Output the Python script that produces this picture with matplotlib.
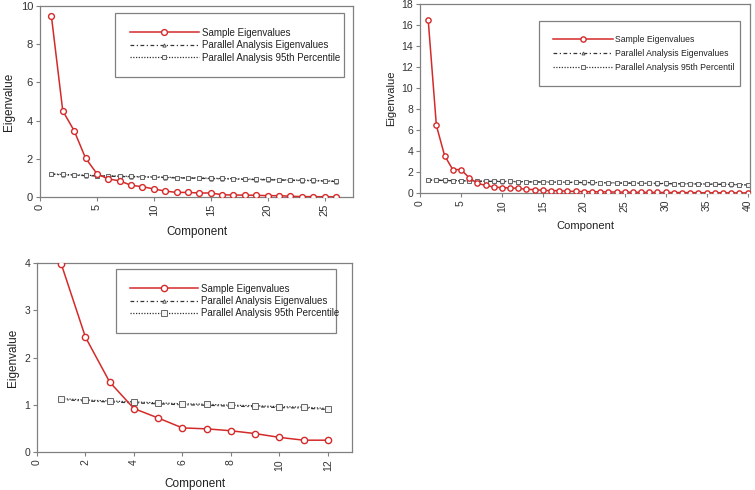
import matplotlib
matplotlib.use("Agg")
import matplotlib.pyplot as plt
import numpy as np

plt.rcParams['font.family'] = ['Liberation Sans', 'DejaVu Sans']

# ---- Data ----
p1_sample = [9.48, 4.51, 3.47, 2.04, 1.22, 0.94, 0.85, 0.61, 0.54, 0.42, 0.31, 0.24, 0.24,
             0.21, 0.21, 0.12, 0.10, 0.10, 0.09, 0.07, 0.07, 0.04, 0.02, 0.02, 0.01, 0.01]
p1_p95 = [1.21, 1.18, 1.16, 1.14, 1.12, 1.11, 1.09, 1.08, 1.06, 1.05, 1.04, 1.02, 1.01,
          1.00, 0.98, 0.97, 0.96, 0.94, 0.93, 0.92, 0.91, 0.89, 0.88, 0.87, 0.85, 0.83]
p1_pa = [1.19, 1.16, 1.14, 1.12, 1.10, 1.09, 1.07, 1.06, 1.04, 1.03, 1.02, 1.00, 0.99,
         0.98, 0.96, 0.95, 0.94, 0.92, 0.91, 0.90, 0.89, 0.87, 0.86, 0.85, 0.83, 0.81]

p2_sample = [16.5, 6.43, 3.57, 2.23, 2.23, 1.46, 0.92, 0.73, 0.57, 0.51, 0.48, 0.45, 0.35,
             0.32, 0.25, 0.22, 0.22, 0.16, 0.16, 0.13, 0.12, 0.11, 0.10, 0.09, 0.08, 0.07,
             0.06, 0.06, 0.05, 0.05, 0.04, 0.04, 0.03, 0.03, 0.02, 0.02, 0.02, 0.01, 0.01, 0.01]
p2_p95 = [1.25, 1.23, 1.21, 1.19, 1.17, 1.16, 1.14, 1.13, 1.12, 1.11, 1.10, 1.09, 1.08,
          1.07, 1.06, 1.05, 1.04, 1.03, 1.02, 1.01, 1.00, 0.99, 0.98, 0.97, 0.96, 0.95,
          0.94, 0.93, 0.92, 0.91, 0.90, 0.89, 0.88, 0.87, 0.86, 0.85, 0.84, 0.82, 0.80, 0.78]
p2_pa = [1.23, 1.21, 1.19, 1.17, 1.15, 1.14, 1.12, 1.11, 1.10, 1.09, 1.08, 1.07, 1.06,
         1.05, 1.04, 1.03, 1.02, 1.01, 1.00, 0.99, 0.98, 0.97, 0.96, 0.95, 0.94, 0.93,
         0.92, 0.91, 0.90, 0.89, 0.88, 0.87, 0.86, 0.85, 0.84, 0.83, 0.82, 0.80, 0.78, 0.76]

p3_sample = [3.98, 2.43, 1.48, 0.92, 0.72, 0.51, 0.49, 0.45, 0.39, 0.31, 0.25, 0.25]
p3_p95 = [1.13, 1.10, 1.08, 1.06, 1.04, 1.02, 1.01, 0.99, 0.98, 0.96, 0.95, 0.92]
p3_pa = [1.11, 1.08, 1.06, 1.04, 1.02, 1.00, 0.99, 0.97, 0.96, 0.94, 0.93, 0.90]

labels_a = ["Sample Eigenvalues", "Parallel Analysis Eigenvalues", "Parallel Analysis 95th Percentile"]
labels_b = ["Sample Eigenvalues", "Parallel Analysis Eigenvalues", "Parallel Analysis 95th Percentil"]

W, H = 755, 490
fig = plt.figure(figsize=(W / 100, H / 100), dpi=100)

RED = '#d42a2a'
GRAY = '#808080'


def make_ax(l, t, r, b):
    return fig.add_axes([l / W, (H - b) / H, (r - l) / W, (b - t) / H])


def panel(ax, sample, pa, p95, labels, ylim, yticks, xlim, xticks, fs_tick, fs_lab, fs_leg,
          leg_box, handlelength, ms, xpad, ypad, borderpad, labelspacing):
    x = np.arange(1, len(sample) + 1)
    ax.plot(x, sample, color=RED, lw=1.1, marker='o', ms=ms, mfc='white', mec=RED, mew=1.0,
            label=labels[0], zorder=3)
    ax.plot(x, pa, color='#333333', lw=0.9, ls=(0, (3, 2, 1, 2)), marker='^', ms=ms * 0.55,
            mfc='white', mec='#555555', mew=0.7, label=labels[1], zorder=2)
    ax.plot(x, p95, color='#333333', lw=0.9, ls=(0, (1, 1.2)), marker='s', ms=ms * 0.85,
            mfc='#f4f4f4', mec='#666666', mew=0.7, label=labels[2], zorder=2)
    ax.set_xlim(*xlim)
    ax.set_ylim(*ylim)
    ax.set_xticks(xticks)
    ax.set_yticks(yticks)
    ax.tick_params(axis='x', labelrotation=90, labelsize=fs_tick, colors='#333333', length=3,
                   width=0.8, pad=2)
    ax.tick_params(axis='y', labelsize=fs_tick, colors='#333333', length=3, width=0.8, pad=2)
    ax.tick_params(axis='both', color=GRAY)
    for s in ax.spines.values():
        s.set_color(GRAY)
        s.set_linewidth(0.9)
    ax.set_xlabel("Component", fontsize=fs_lab, color='#222222', labelpad=xpad)
    ax.set_ylabel("Eigenvalue", fontsize=fs_lab, color='#222222', labelpad=ypad)
    l, b, w, h = leg_box
    leg = ax.legend(loc='upper left', bbox_to_anchor=(l, b, w, h), mode='expand',
                    fontsize=fs_leg, frameon=True, fancybox=False, framealpha=1,
                    edgecolor=GRAY, handlelength=handlelength, handletextpad=0.3,
                    borderpad=borderpad, labelspacing=labelspacing, borderaxespad=0,
                    numpoints=1)
    leg.get_frame().set_linewidth(0.9)
    for t in leg.get_texts():
        t.set_color('#222222')
    return ax


ax1 = make_ax(40, 6, 353, 197)
panel(ax1, p1_sample, p1_pa, p1_p95, labels_a, (0, 10), [0, 2, 4, 6, 8, 10], (0, 27.5),
      [0, 5, 10, 15, 20, 25], 8, 8.5, 7, (0.24, 0.634, 0.73, 0.329), 7.1, 4.2, 7, 4, 1.5, 0.25)

ax2 = make_ax(420, 4, 750, 193)
panel(ax2, p2_sample, p2_pa, p2_p95, labels_b, (0, 18), list(range(0, 19, 2)), (0, 40.3),
      list(range(0, 41, 5)), 7.5, 8, 6.2, (0.36, 0.556, 0.61, 0.354), 7.0, 3.8, 7, 4, 1.6, 0.6)

ax3 = make_ax(37, 263, 352, 452)
panel(ax3, p3_sample, p3_pa, p3_p95, labels_a, (0, 4), [0, 1, 2, 3, 4], (0, 13),
      list(range(0, 13, 2)), 7.5, 8.5, 7, (0.25, 0.65, 0.70, 0.318), 7.0, 4.5, 5, 4, 1.5, 0.25)

fig.savefig("out.png", dpi=100)
